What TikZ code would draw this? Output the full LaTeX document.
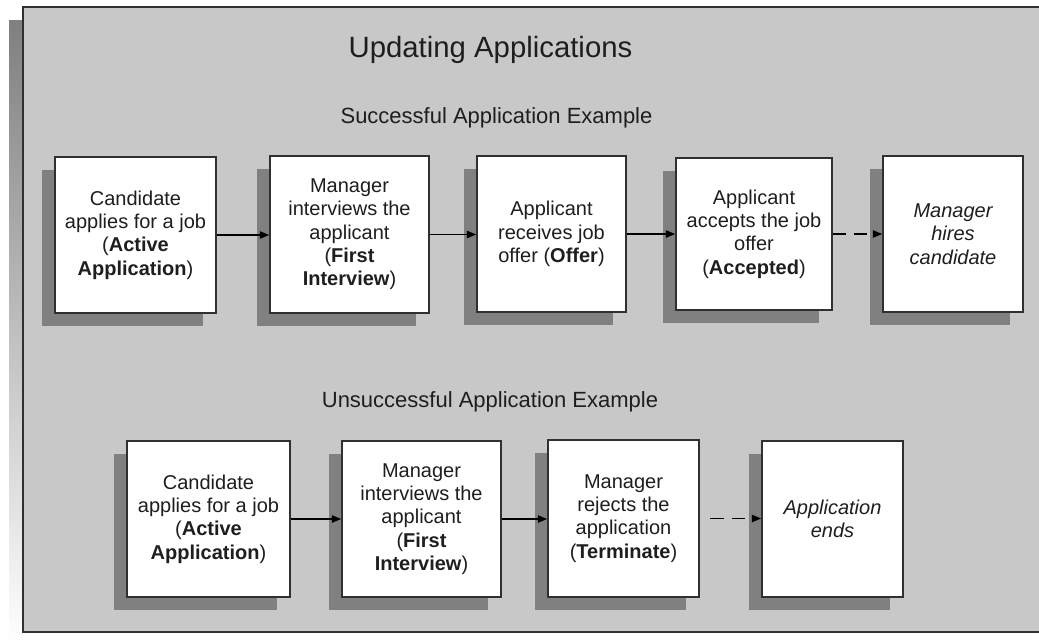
\documentclass[tikz,border=0pt]{standalone}
\usepackage{fontspec}
\setmainfont{Liberation Sans}
\usetikzlibrary{arrows.meta,shadows}
\definecolor{panel}{HTML}{C8C8C8}
\definecolor{shade}{HTML}{808080}
\definecolor{ink}{HTML}{1E1E1E}
\definecolor{edge}{HTML}{303030}
\begin{document}
\begin{tikzpicture}[x=0.75pt,y=-0.75pt,
  stepbox/.style 2 args={draw=edge, line width=1.2pt, fill=white,
    minimum width=#1*0.75pt, minimum height=#2*0.75pt, inner sep=0pt,
    align=center, text=ink, font=\fontsize{15}{17.5}\selectfont,
    general shadow={fill=shade, shadow xshift=-9.75pt, shadow yshift=-9.75pt}},
  itbox/.style={font=\fontsize{15}{17.5}\selectfont\itshape},
  arr/.style={draw=black, line width=1pt, -{Triangle[length=7pt,width=5.5pt]}},
  darr/.style={arr, dash pattern=on 10pt off 6pt},
  titletext/.style={text=ink, font=\fontsize{22}{26}\selectfont, anchor=base, inner sep=0pt},
  subtext/.style={text=ink, font=\fontsize{16.5}{20}\selectfont, anchor=base, inner sep=0pt}]
\useasboundingbox (0,0) rectangle (1039,640);
\clip (0,0) rectangle (1039,640);
% panel
\fill[shade] (9,20) rectangle (1033,645);
\filldraw[fill=panel, draw=edge, line width=1.5pt] (23,7) rectangle (1047,632);
% titles
\node[titletext] (title) at (490.5,57) {Updating Applications};
\node[subtext] (sub1) at (496.5,123) {Successful Application Example};
\node[subtext] (sub2) at (490,407.5) {Unsuccessful Application Example};
% top row
\node[stepbox={161}{156}] (B1) at (135.5,235) {Candidate\\applies for a job\\(\textbf{Active}\\\textbf{Application})};
\node[stepbox={159}{157}] (B2) at (349.5,234.5) {Manager\\interviews the\\applicant\\(\textbf{First}\\\textbf{Interview})};
\node[stepbox={149}{156}] (B3) at (551.5,234) {Applicant\\receives job\\offer (\textbf{Offer})};
\node[stepbox={156}{152}] (B4) at (754,234) {Applicant\\accepts the job\\offer\\(\textbf{Accepted})};
\node[stepbox={140}{156}, itbox] (B5) at (953,234) {Manager\\hires\\candidate};
% bottom row
\node[stepbox={163}{156}] (C1) at (208.5,519) {Candidate\\applies for a job\\(\textbf{Active}\\\textbf{Application})};
\node[stepbox={159}{156}] (C2) at (421.5,519) {Manager\\interviews the\\applicant\\(\textbf{First}\\\textbf{Interview})};
\node[stepbox={151}{157}] (C3) at (623.5,518.5) {Manager\\rejects the\\application\\(\textbf{Terminate})};
\node[stepbox={141}{156}, itbox] (C4) at (832.5,519) {Application\\ends};
% connectors
\draw[arr] (B1.east) -- (B1.east -| B2.west);
\draw[arr] (B2.east) -- (B2.east -| B3.west);
\draw[arr] (B3.east) -- (B3.east -| B4.west);
\draw[darr] (B4.east) -- (B4.east -| B5.west);
\draw[arr] (C1.east) -- (C1.east -| C2.west);
\draw[arr] (C2.east) -- (C2.east -| C3.west);
\draw[darr, shorten <=8pt] (C3.east) -- (C3.east -| C4.west);
\end{tikzpicture}
\end{document}
